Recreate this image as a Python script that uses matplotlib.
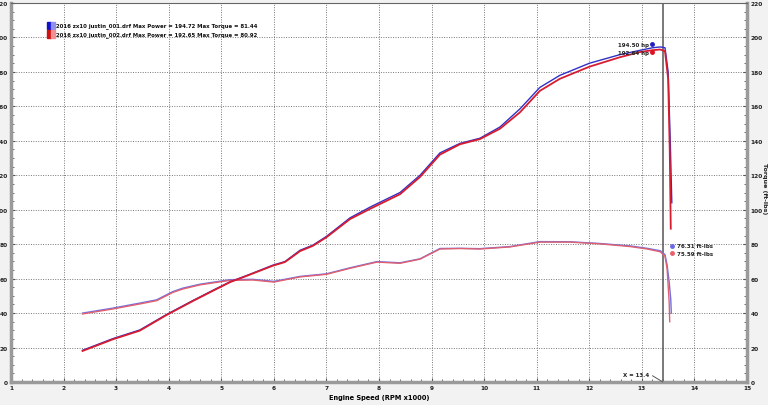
import matplotlib.pyplot as plt
from matplotlib.patches import Rectangle

# dyno run data (rpm x1000)
rpm_pw_blue = [2.36, 2.94, 3.45, 3.96, 4.46, 4.91, 5.17, 5.5, 5.98, 6.21, 6.5, 6.74, 7.0, 7.45, 7.83,
               8.4, 8.78, 9.16, 9.54, 9.92, 10.3, 10.68, 11.06, 11.44, 12.0, 12.58, 12.96, 13.2,
               13.35, 13.44, 13.5, 13.54, 13.57]
hp_blue = [18.4, 25.2, 30.2, 39.2, 47.3, 54.3, 58.2, 62, 67.8, 69.9, 76.5, 79.4, 84.5, 95.3, 101.5,
           110, 120, 133, 138.5, 141.5, 148, 158.5, 171, 178, 185, 190, 192.5, 194,
           194.5, 194, 180, 140, 104]
rpm_pw_red = [2.36, 2.94, 3.45, 3.96, 4.46, 4.91, 5.17, 5.5, 5.98, 6.21, 6.5, 6.74, 7.0, 7.45, 7.83,
              8.4, 8.78, 9.16, 9.54, 9.92, 10.3, 10.68, 11.06, 11.44, 12.0, 12.58, 12.96, 13.2,
              13.35, 13.44, 13.5, 13.53, 13.55]
hp_red = [18.0, 24.8, 29.8, 38.9, 47.0, 54.0, 58.0, 61.8, 67.5, 69.6, 76.0, 79.0, 84.0, 94.6, 100.5,
          109, 119, 132, 138, 141, 147, 156.5, 169, 176, 183, 188.5, 191.5, 192.6,
          193, 192, 176, 135, 89]

rpm_tq_blue = [2.36, 2.94, 3.45, 3.77, 4.08, 4.27, 4.6, 5.17, 5.6, 6.0, 6.5, 7.0, 7.45, 7.96, 8.4,
               8.78, 9.16, 9.54, 9.92, 10.49, 11.06, 11.63, 12.2, 12.78, 13.1, 13.35, 13.44, 13.48,
               13.52, 13.55, 13.56]
tq_blue = [40.0, 42.9, 45.8, 47.7, 52.5, 54.5, 56.8, 59.4, 59.6, 58.4, 61.3, 62.8, 66.3, 69.9, 69.2,
           71.5, 77.5, 77.6, 77.4, 78.6, 81.5, 81.4, 80.4, 79, 77.6, 76.2, 74, 68,
           58, 48, 40]
rpm_tq_red = [2.36, 2.94, 3.45, 3.77, 4.08, 4.27, 4.6, 5.17, 5.6, 6.0, 6.5, 7.0, 7.45, 7.96, 8.4,
              8.78, 9.16, 9.54, 9.92, 10.49, 11.06, 11.63, 12.2, 12.78, 13.1, 13.35, 13.44, 13.48,
              13.5, 13.52, 13.53]
tq_red = [39.5, 42.4, 45.3, 47.2, 52, 54, 56.4, 59, 59.2, 58, 61, 62.5, 66, 69.6, 68.9,
          71.3, 77.2, 77.5, 77.2, 78.4, 81.2, 81.2, 80.2, 78.6, 77.2, 75.6, 73, 65.6,
          56, 46, 35]

legend_lines = ["2016 zx10 justin_001.drf Max Power = 194.72 Max Torque = 81.44",
                "2016 zx10 justin_002.drf Max Power = 192.65 Max Torque = 80.92"]
cursor_x = 13.4
peak_hp = [194.50, 192.64]
peak_tq = [76.31, 75.59]

fig = plt.figure(figsize=(7.68, 4.06), dpi=100, facecolor='#f2f2f2')
ax = fig.add_axes([11 / 768, 23 / 406, 736 / 768, 379 / 406])
ax.set_facecolor('white')

blue = '#3030c8'
red = '#d81c30'
ax.plot(rpm_tq_blue, tq_blue, color='#7070e0', lw=1.0, zorder=3)
ax.plot(rpm_tq_red, tq_red, color='#e06070', lw=1.0, zorder=3)
ax.plot(rpm_pw_blue, hp_blue, color=blue, lw=1.0, zorder=3)
ax.plot(rpm_pw_red, hp_red, color=red, lw=1.3, zorder=4)

ax.axvline(cursor_x, color='#555555', lw=1.1, zorder=2)

# peak markers
fs = 4
ax.plot([13.2], [peak_hp[0] + 1.5], 'o', color='#2020c0', ms=2.5, zorder=5)
ax.plot([13.2], [peak_hp[1] - 1.0], 'o', color='#e01020', ms=2.5, zorder=5)
ax.text(13.13, peak_hp[0] + 1.5, '%.2f hp' % peak_hp[0], fontsize=fs, fontweight='bold',
        ha='right', va='center', color='#222222', zorder=6)
ax.text(13.13, peak_hp[1] - 1.5, '%.2f hp' % peak_hp[1], fontsize=fs, fontweight='bold',
        ha='right', va='center', color='#222222', zorder=6)
ax.plot([13.57], [peak_tq[0] + 2.8], 'o', color='#6a6ae8', ms=2.5, zorder=5)
ax.plot([13.57], [peak_tq[1] - 0.8], 'o', color='#e86070', ms=2.5, zorder=5)
ax.text(13.67, peak_tq[0] + 2.8, '%.2f ft-lbs' % peak_tq[0], fontsize=fs, fontweight='bold',
        ha='left', va='center', color='#222222', zorder=6)
ax.text(13.67, peak_tq[1] - 0.8, '%.2f ft-lbs' % peak_tq[1], fontsize=fs, fontweight='bold',
        ha='left', va='center', color='#222222', zorder=6)

ax.annotate('X = 13.4', xy=(cursor_x, 0), xytext=(12.65, 4.6), fontsize=fs, fontweight='bold',
            ha='left', va='center', color='#222222',
            arrowprops=dict(arrowstyle='-', color='#555555', lw=0.7, shrinkA=0, shrinkB=0,
                            relpos=(1.0, 0.5)))

# legend boxes
for i, (txt, c_dark, c_light) in enumerate(zip(legend_lines, ['#1010d0', '#d01010'],
                                                ['#9090f0', '#f09090'])):
    y = 0.9406 - i * 0.0225
    ax.add_patch(Rectangle((0.049, y - 0.0095), 0.0055, 0.019, transform=ax.transAxes,
                           color=c_dark, zorder=6))
    ax.add_patch(Rectangle((0.0545, y - 0.0095), 0.0055, 0.019, transform=ax.transAxes,
                           color=c_light, zorder=6))
    ax.text(0.0615, y, txt, transform=ax.transAxes, fontsize=3.9, fontweight='bold',
            va='center', ha='left', color='#111111', zorder=6)

ax.set_xlim(1, 15)
ax.set_ylim(0, 220)
ax.set_xticks(range(1, 16))
ax.set_yticks(range(0, 221, 20))
ax.set_xticks([1 + 0.2 * i for i in range(71)], minor=True)
ax.set_yticks(range(0, 221, 5), minor=True)
ax.grid(True, which='major', color='#777777', linestyle=(0, (1, 1.5)), lw=0.7)
ax.tick_params(which='both', direction='in', labelsize=4.2, colors='#555555', labelcolor='#222222')
ax.tick_params(which='major', length=3, width=0.8)
ax.tick_params(which='minor', length=2, width=0.6)
ax.tick_params(axis='y', which='both', left=True, right=True, labelleft=True, labelright=True, pad=2.5)
ax.tick_params(axis='x', pad=2)
for lab in ax.get_xticklabels() + ax.get_yticklabels():
    lab.set_fontweight('bold')

for side in ['left', 'bottom', 'right']:
    ax.spines[side].set_color('#9a9a9a')
    ax.spines[side].set_linewidth(2.5)
ax.spines['top'].set_color('#666666')
ax.spines['top'].set_linewidth(0.8)

ax.set_xlabel('Engine Speed (RPM x1000)', fontsize=4.8, fontweight='bold', labelpad=3)
fig.text(0.9955, 0.535, 'Torque (ft-lbs)', rotation=-90, fontsize=4.6, fontweight='bold',
         ha='center', va='center', color='#222222')

fig.savefig('out.png', dpi=100, facecolor=fig.get_facecolor())
